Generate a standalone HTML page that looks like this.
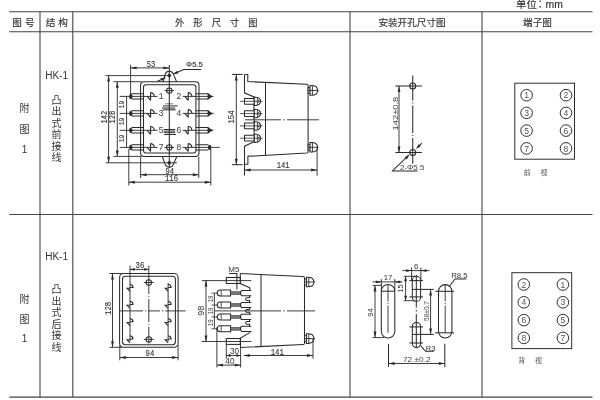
<!DOCTYPE html>
<html lang="zh-CN">
<head>
<meta charset="utf-8">
<title>HK-1 外形尺寸图</title>
<style>
html,body{margin:0;padding:0;background:#fff;}
body{width:600px;height:400px;overflow:hidden;font-family:'Liberation Sans','Noto Sans CJK SC',sans-serif;}
svg{display:block;will-change:transform;}
svg text{white-space:pre;}
</style>
</head>
<body>
<svg width="600" height="400" viewBox="0 0 600 400">
<line x1="9.2" y1="11.7" x2="592.5" y2="11.7" stroke="#444" stroke-width="1.1"/>
<line x1="9.2" y1="31.7" x2="592.5" y2="31.7" stroke="#444" stroke-width="1.1"/>
<line x1="9.2" y1="214.5" x2="592.5" y2="214.5" stroke="#444" stroke-width="1.1"/>
<line x1="9.2" y1="397.2" x2="592.5" y2="397.2" stroke="#444" stroke-width="1.3"/>
<line x1="40" y1="11.7" x2="40" y2="397.2" stroke="#444" stroke-width="1.1"/>
<line x1="72.8" y1="11.7" x2="72.8" y2="397.2" stroke="#444" stroke-width="1.1"/>
<line x1="350" y1="11.7" x2="350" y2="397.2" stroke="#444" stroke-width="1.1"/>
<line x1="482" y1="11.7" x2="482" y2="397.2" stroke="#444" stroke-width="1.1"/>
<text x="24.9" y="26" font-size="9.6" text-anchor="middle" font-family="'Liberation Sans','Noto Sans CJK SC',sans-serif" fill="#333" letter-spacing="3" stroke="#333" stroke-width="0.15">图号</text>
<text x="58.3" y="26" font-size="9.6" text-anchor="middle" font-family="'Liberation Sans','Noto Sans CJK SC',sans-serif" fill="#333" letter-spacing="3" stroke="#333" stroke-width="0.15">结构</text>
<text x="220.8" y="26" font-size="9.2" text-anchor="middle" font-family="'Liberation Sans','Noto Sans CJK SC',sans-serif" fill="#333" letter-spacing="9.1" stroke="#333" stroke-width="0.15">外形尺寸图</text>
<text x="412" y="26" font-size="9.6" text-anchor="middle" font-family="'Liberation Sans','Noto Sans CJK SC',sans-serif" fill="#333" stroke="#333" stroke-width="0.15">安装开孔尺寸图</text>
<text x="537.5" y="26" font-size="9.6" text-anchor="middle" font-family="'Liberation Sans','Noto Sans CJK SC',sans-serif" fill="#333" stroke="#333" stroke-width="0.15">端子图</text>
<text x="516" y="8" font-size="10.4" text-anchor="start" font-family="'Liberation Sans','Noto Sans CJK SC',sans-serif" fill="#333" stroke="#333" stroke-width="0.15">单位<tspan x="540.1" text-anchor="middle" lang="ja" font-family="'Noto Sans CJK JP',sans-serif">：</tspan><tspan x="545.6" text-anchor="start">mm</tspan></text>
<text x="24.6" y="111.5" font-size="10" text-anchor="middle" font-family="'Liberation Sans','Noto Sans CJK SC',sans-serif" fill="#333">附</text>
<text x="24.6" y="133" font-size="10" text-anchor="middle" font-family="'Liberation Sans','Noto Sans CJK SC',sans-serif" fill="#333">图</text>
<text x="24.6" y="153" font-size="10" text-anchor="middle" font-family="'Liberation Sans','Noto Sans CJK SC',sans-serif" fill="#333">1</text>
<text x="24.6" y="303" font-size="10" text-anchor="middle" font-family="'Liberation Sans','Noto Sans CJK SC',sans-serif" fill="#333">附</text>
<text x="24.6" y="323" font-size="10" text-anchor="middle" font-family="'Liberation Sans','Noto Sans CJK SC',sans-serif" fill="#333">图</text>
<text x="24.6" y="342.3" font-size="10" text-anchor="middle" font-family="'Liberation Sans','Noto Sans CJK SC',sans-serif" fill="#333">1</text>
<text x="56.6" y="78.6" font-size="10" text-anchor="middle" font-family="'Liberation Sans','Noto Sans CJK SC',sans-serif" fill="#333">HK-1</text>
<text x="56.6" y="259.6" font-size="10" text-anchor="middle" font-family="'Liberation Sans','Noto Sans CJK SC',sans-serif" fill="#333">HK-1</text>
<text x="56.4" y="103.6" font-size="10" text-anchor="middle" font-family="'Liberation Sans','Noto Sans CJK SC',sans-serif" fill="#333">凸</text>
<text x="56.4" y="115.15" font-size="10" text-anchor="middle" font-family="'Liberation Sans','Noto Sans CJK SC',sans-serif" fill="#333">出</text>
<text x="56.4" y="126.7" font-size="10" text-anchor="middle" font-family="'Liberation Sans','Noto Sans CJK SC',sans-serif" fill="#333">式</text>
<text x="56.4" y="138.25" font-size="10" text-anchor="middle" font-family="'Liberation Sans','Noto Sans CJK SC',sans-serif" fill="#333">前</text>
<text x="56.4" y="149.8" font-size="10" text-anchor="middle" font-family="'Liberation Sans','Noto Sans CJK SC',sans-serif" fill="#333">接</text>
<text x="56.4" y="161.35" font-size="10" text-anchor="middle" font-family="'Liberation Sans','Noto Sans CJK SC',sans-serif" fill="#333">线</text>
<text x="56.4" y="293" font-size="10" text-anchor="middle" font-family="'Liberation Sans','Noto Sans CJK SC',sans-serif" fill="#333">凸</text>
<text x="56.4" y="304.6" font-size="10" text-anchor="middle" font-family="'Liberation Sans','Noto Sans CJK SC',sans-serif" fill="#333">出</text>
<text x="56.4" y="316.2" font-size="10" text-anchor="middle" font-family="'Liberation Sans','Noto Sans CJK SC',sans-serif" fill="#333">式</text>
<text x="56.4" y="327.8" font-size="10" text-anchor="middle" font-family="'Liberation Sans','Noto Sans CJK SC',sans-serif" fill="#333">后</text>
<text x="56.4" y="339.4" font-size="10" text-anchor="middle" font-family="'Liberation Sans','Noto Sans CJK SC',sans-serif" fill="#333">接</text>
<text x="56.4" y="351" font-size="10" text-anchor="middle" font-family="'Liberation Sans','Noto Sans CJK SC',sans-serif" fill="#333">线</text>
<rect x="140.6" y="81.8" width="58.4" height="74.6" rx="3.5" stroke="#2a2a2a" stroke-width="1.04" fill="none"/>
<rect x="143.5" y="84.7" width="52.4" height="68.3" rx="2.5" stroke="#2a2a2a" stroke-width="1.04" fill="none"/>
<line x1="169.3" y1="65" x2="169.3" y2="168" stroke="#2a2a2a" stroke-width="1.04"/>
<path d="M163.2,81.8 L165.1,74.4 A4.4,4.4 0 0 1 173.5,74.4 L176.6,81.8" stroke="#2a2a2a" stroke-width="1.04" fill="none"/>
<circle cx="169.3" cy="75.5" r="1.5" stroke="#2a2a2a" stroke-width="0.65" fill="#2a2a2a"/>
<path d="M162.3,156.5 L165.2,164.4 A4.4,4.4 0 0 0 173.4,164.4 L176.8,156.5" stroke="#2a2a2a" stroke-width="1.04" fill="none"/>
<circle cx="169.3" cy="162.8" r="1.5" stroke="#2a2a2a" stroke-width="0.65" fill="#2a2a2a"/>
<circle cx="169.3" cy="90.6" r="2.7" stroke="#2a2a2a" stroke-width="1.04" fill="none"/>
<line x1="164.5" y1="90.6" x2="174.1" y2="90.6" stroke="#2a2a2a" stroke-width="0.91"/>
<circle cx="169.3" cy="147.5" r="2.7" stroke="#2a2a2a" stroke-width="1.04" fill="none"/>
<line x1="164.5" y1="147.5" x2="174.1" y2="147.5" stroke="#2a2a2a" stroke-width="0.91"/>
<path d="M143.4,93.7 L131.4,93.7 M143.4,99.1 L131.4,99.1" stroke="#2a2a2a" stroke-width="1.01" fill="none"/>
<ellipse cx="130.8" cy="96.4" rx="1.7" ry="2.6" fill="#2a2a2a"/>
<path d="M196,93.7 L208.4,93.7 M196,99.1 L208.4,99.1" stroke="#2a2a2a" stroke-width="1.01" fill="none"/>
<path d="M207.8,93.3 L212.4,96.4 L207.8,99.5 Z" stroke="#2a2a2a" stroke-width="0.39" fill="#2a2a2a"/>
<line x1="182.6" y1="96.4" x2="213.6" y2="96.4" stroke="#2a2a2a" stroke-width="0.91"/>
<line x1="119.7" y1="96.4" x2="157.6" y2="96.4" stroke="#2a2a2a" stroke-width="0.91"/>
<path d="M150.6,92.4 L150.6,100.4 M150.6,92.4 Q154.2,93.4 154.3,96.4 M150.6,100.4 L147.2,96.4" stroke="#2a2a2a" stroke-width="1.1" fill="none"/>
<path d="M188.2,92.4 L188.2,100.4 M188.2,92.4 Q191.8,93.4 191.9,96.4 M188.2,100.4 L184.8,96.4" stroke="#2a2a2a" stroke-width="1.1" fill="none"/>
<text x="161.2" y="99.3" font-size="8.6" text-anchor="middle" font-family="'Liberation Mono','Liberation Sans',monospace" fill="#444" stroke="#444" stroke-width="0.01">1</text>
<text x="178.8" y="99.3" font-size="8.6" text-anchor="middle" font-family="'Liberation Mono','Liberation Sans',monospace" fill="#444" stroke="#444" stroke-width="0.01">2</text>
<path d="M143.4,110.7 L131.4,110.7 M143.4,116.1 L131.4,116.1" stroke="#2a2a2a" stroke-width="1.01" fill="none"/>
<ellipse cx="130.8" cy="113.4" rx="1.7" ry="2.6" fill="#2a2a2a"/>
<path d="M196,110.7 L208.4,110.7 M196,116.1 L208.4,116.1" stroke="#2a2a2a" stroke-width="1.01" fill="none"/>
<path d="M207.8,110.3 L212.4,113.4 L207.8,116.5 Z" stroke="#2a2a2a" stroke-width="0.39" fill="#2a2a2a"/>
<line x1="182.6" y1="113.4" x2="213.6" y2="113.4" stroke="#2a2a2a" stroke-width="0.91"/>
<line x1="119.7" y1="113.4" x2="157.6" y2="113.4" stroke="#2a2a2a" stroke-width="0.91"/>
<path d="M150.6,109.4 L150.6,117.4 M150.6,109.4 Q154.2,110.4 154.3,113.4 M150.6,117.4 L147.2,113.4" stroke="#2a2a2a" stroke-width="1.1" fill="none"/>
<path d="M188.2,109.4 L188.2,117.4 M188.2,109.4 Q191.8,110.4 191.9,113.4 M188.2,117.4 L184.8,113.4" stroke="#2a2a2a" stroke-width="1.1" fill="none"/>
<text x="161.2" y="116.3" font-size="8.6" text-anchor="middle" font-family="'Liberation Mono','Liberation Sans',monospace" fill="#444" stroke="#444" stroke-width="0.01">3</text>
<text x="178.8" y="116.3" font-size="8.6" text-anchor="middle" font-family="'Liberation Mono','Liberation Sans',monospace" fill="#444" stroke="#444" stroke-width="0.01">4</text>
<path d="M143.4,127.6 L131.4,127.6 M143.4,133 L131.4,133" stroke="#2a2a2a" stroke-width="1.01" fill="none"/>
<ellipse cx="130.8" cy="130.3" rx="1.7" ry="2.6" fill="#2a2a2a"/>
<path d="M196,127.6 L208.4,127.6 M196,133 L208.4,133" stroke="#2a2a2a" stroke-width="1.01" fill="none"/>
<path d="M207.8,127.2 L212.4,130.3 L207.8,133.4 Z" stroke="#2a2a2a" stroke-width="0.39" fill="#2a2a2a"/>
<line x1="182.6" y1="130.3" x2="213.6" y2="130.3" stroke="#2a2a2a" stroke-width="0.91"/>
<line x1="119.7" y1="130.3" x2="157.6" y2="130.3" stroke="#2a2a2a" stroke-width="0.91"/>
<path d="M150.6,126.3 L150.6,134.3 M150.6,126.3 Q154.2,127.3 154.3,130.3 M150.6,134.3 L147.2,130.3" stroke="#2a2a2a" stroke-width="1.1" fill="none"/>
<path d="M188.2,126.3 L188.2,134.3 M188.2,126.3 Q191.8,127.3 191.9,130.3 M188.2,134.3 L184.8,130.3" stroke="#2a2a2a" stroke-width="1.1" fill="none"/>
<text x="161.2" y="133.2" font-size="8.6" text-anchor="middle" font-family="'Liberation Mono','Liberation Sans',monospace" fill="#444" stroke="#444" stroke-width="0.01">5</text>
<text x="178.8" y="133.2" font-size="8.6" text-anchor="middle" font-family="'Liberation Mono','Liberation Sans',monospace" fill="#444" stroke="#444" stroke-width="0.01">6</text>
<path d="M143.4,144.7 L131.4,144.7 M143.4,150.1 L131.4,150.1" stroke="#2a2a2a" stroke-width="1.01" fill="none"/>
<ellipse cx="130.8" cy="147.4" rx="1.7" ry="2.6" fill="#2a2a2a"/>
<path d="M196,144.7 L208.4,144.7 M196,150.1 L208.4,150.1" stroke="#2a2a2a" stroke-width="1.01" fill="none"/>
<ellipse cx="209.6" cy="147.4" rx="1.7" ry="2.6" fill="#2a2a2a"/>
<line x1="182.6" y1="147.4" x2="219.8" y2="147.4" stroke="#2a2a2a" stroke-width="0.91"/>
<line x1="119.7" y1="147.4" x2="157.6" y2="147.4" stroke="#2a2a2a" stroke-width="0.91"/>
<path d="M150.6,143.4 L150.6,151.4 M150.6,143.4 Q154.2,144.4 154.3,147.4 M150.6,151.4 L147.2,147.4" stroke="#2a2a2a" stroke-width="1.1" fill="none"/>
<path d="M188.2,143.4 L188.2,151.4 M188.2,143.4 Q191.8,144.4 191.9,147.4 M188.2,151.4 L184.8,147.4" stroke="#2a2a2a" stroke-width="1.1" fill="none"/>
<text x="161.2" y="150.3" font-size="8.6" text-anchor="middle" font-family="'Liberation Mono','Liberation Sans',monospace" fill="#444" stroke="#444" stroke-width="0.01">7</text>
<text x="178.8" y="150.3" font-size="8.6" text-anchor="middle" font-family="'Liberation Mono','Liberation Sans',monospace" fill="#444" stroke="#444" stroke-width="0.01">8</text>
<line x1="165.2" y1="103.8" x2="173.1" y2="103.8" stroke="#2a2a2a" stroke-width="0.65"/>
<line x1="163.1" y1="105.9" x2="177.8" y2="105.9" stroke="#2a2a2a" stroke-width="0.98"/>
<line x1="162" y1="108" x2="175.2" y2="108" stroke="#2a2a2a" stroke-width="1.04"/>
<line x1="163.1" y1="109.8" x2="175.7" y2="109.8" stroke="#2a2a2a" stroke-width="1.04"/>
<line x1="163.7" y1="129.5" x2="175.2" y2="129.5" stroke="#2a2a2a" stroke-width="0.98"/>
<line x1="163.7" y1="131.1" x2="175.2" y2="131.1" stroke="#2a2a2a" stroke-width="0.98"/>
<line x1="163.7" y1="132.7" x2="175.2" y2="132.7" stroke="#2a2a2a" stroke-width="0.98"/>
<line x1="164.2" y1="134.5" x2="176" y2="134.5" stroke="#2a2a2a" stroke-width="0.98"/>
<line x1="130.6" y1="65" x2="130.6" y2="99" stroke="#2a2a2a" stroke-width="0.91"/>
<line x1="130.6" y1="67.9" x2="169.3" y2="67.9" stroke="#2a2a2a" stroke-width="0.91"/>
<polygon points="169.3,67.9 163.3,69.35 163.3,66.45" fill="#2a2a2a"/>
<polygon points="130.6,67.9 136.6,66.45 136.6,69.35" fill="#2a2a2a"/>
<text x="151" y="66.8" font-size="8.2" text-anchor="middle" font-family="'Liberation Mono','Liberation Sans',monospace" fill="#333" textLength="8.6" lengthAdjust="spacingAndGlyphs" stroke="#333" stroke-width="0.12">53</text>
<text x="194.4" y="67.4" font-size="7.8" text-anchor="middle" font-family="'Liberation Sans','Noto Sans CJK SC',sans-serif" fill="#333" textLength="16.6" lengthAdjust="spacingAndGlyphs" stroke="#333" stroke-width="0.15">Φ5.5</text>
<path d="M201.3,69.4 L183.8,69.4 L173.4,74" stroke="#2a2a2a" stroke-width="1.04" fill="none"/>
<polygon points="173.2,74.1 177.18,70.74 178.36,73.39" fill="#2a2a2a"/>
<line x1="157" y1="81.5" x2="165.4" y2="77.6" stroke="#2a2a2a" stroke-width="1.04"/>
<polygon points="165.6,77.5 161.68,80.93 160.46,78.3" fill="#2a2a2a"/>
<line x1="105.6" y1="75.6" x2="169.3" y2="75.6" stroke="#2a2a2a" stroke-width="0.91"/>
<line x1="113.5" y1="81.7" x2="141.5" y2="81.7" stroke="#2a2a2a" stroke-width="0.91"/>
<line x1="105.6" y1="162.8" x2="177" y2="162.8" stroke="#2a2a2a" stroke-width="0.91"/>
<line x1="113.5" y1="156.4" x2="141.5" y2="156.4" stroke="#2a2a2a" stroke-width="0.91"/>
<line x1="108.6" y1="75.6" x2="108.6" y2="162.8" stroke="#2a2a2a" stroke-width="0.91"/>
<polygon points="108.6,162.8 107.15,156.8 110.05,156.8" fill="#2a2a2a"/>
<polygon points="108.6,75.6 110.05,81.6 107.15,81.6" fill="#2a2a2a"/>
<line x1="117.3" y1="81.7" x2="117.3" y2="156.4" stroke="#2a2a2a" stroke-width="0.91"/>
<polygon points="117.3,156.4 115.85,150.4 118.75,150.4" fill="#2a2a2a"/>
<polygon points="117.3,81.7 118.75,87.7 115.85,87.7" fill="#2a2a2a"/>
<text x="106.9" y="117.1" font-size="8.2" text-anchor="middle" font-family="'Liberation Mono','Liberation Sans',monospace" fill="#333" transform="rotate(-90 106.9 117.1)" textLength="13" lengthAdjust="spacingAndGlyphs" stroke="#333" stroke-width="0.12">142</text>
<text x="115.2" y="117.1" font-size="8.2" text-anchor="middle" font-family="'Liberation Mono','Liberation Sans',monospace" fill="#333" transform="rotate(-90 115.2 117.1)" textLength="13" lengthAdjust="spacingAndGlyphs" stroke="#333" stroke-width="0.12">128</text>
<line x1="126.6" y1="96.4" x2="126.6" y2="147.4" stroke="#2a2a2a" stroke-width="0.91"/>
<text x="123.9" y="104.5" font-size="8" text-anchor="middle" font-family="'Liberation Mono','Liberation Sans',monospace" fill="#333" transform="rotate(-90 123.9 104.5)" textLength="7.8" lengthAdjust="spacingAndGlyphs" stroke="#333" stroke-width="0.12">19</text>
<text x="123.9" y="121.45" font-size="8" text-anchor="middle" font-family="'Liberation Mono','Liberation Sans',monospace" fill="#333" transform="rotate(-90 123.9 121.45)" textLength="7.8" lengthAdjust="spacingAndGlyphs" stroke="#333" stroke-width="0.12">19</text>
<text x="123.9" y="138.45" font-size="8" text-anchor="middle" font-family="'Liberation Mono','Liberation Sans',monospace" fill="#333" transform="rotate(-90 123.9 138.45)" textLength="7.8" lengthAdjust="spacingAndGlyphs" stroke="#333" stroke-width="0.12">19</text>
<line x1="128.8" y1="149" x2="128.8" y2="185.5" stroke="#2a2a2a" stroke-width="0.91"/>
<line x1="210.8" y1="149" x2="210.8" y2="185.5" stroke="#2a2a2a" stroke-width="0.91"/>
<line x1="140.6" y1="157" x2="140.6" y2="178" stroke="#2a2a2a" stroke-width="0.91"/>
<line x1="198.8" y1="157" x2="198.8" y2="178" stroke="#2a2a2a" stroke-width="0.91"/>
<line x1="140.6" y1="174.7" x2="198.8" y2="174.7" stroke="#2a2a2a" stroke-width="0.91"/>
<polygon points="198.8,174.7 192.8,176.15 192.8,173.25" fill="#2a2a2a"/>
<polygon points="140.6,174.7 146.6,173.25 146.6,176.15" fill="#2a2a2a"/>
<line x1="128.8" y1="182.2" x2="210.8" y2="182.2" stroke="#2a2a2a" stroke-width="0.91"/>
<polygon points="210.8,182.2 204.8,183.65 204.8,180.75" fill="#2a2a2a"/>
<polygon points="128.8,182.2 134.8,180.75 134.8,183.65" fill="#2a2a2a"/>
<text x="169.8" y="173.7" font-size="8.2" text-anchor="middle" font-family="'Liberation Mono','Liberation Sans',monospace" fill="#333" textLength="8.6" lengthAdjust="spacingAndGlyphs" stroke="#333" stroke-width="0.12">94</text>
<text x="171.5" y="181.3" font-size="8.2" text-anchor="middle" font-family="'Liberation Mono','Liberation Sans',monospace" fill="#333" textLength="13.2" lengthAdjust="spacingAndGlyphs" stroke="#333" stroke-width="0.12">116</text>
<path d="M244.5,74.4 L247.8,74.4 L247.8,81.6 L306.6,84.3 Q308.1,84.4 308.1,85.8 L308.1,151.8 Q308.1,153 306.8,153.1 L247.9,156.3 L247.9,164.2 L244.5,164.2" stroke="#2a2a2a" stroke-width="1.04" fill="none"/>
<path d="M244.5,74.4 L244.5,92.8 L253.8,96.9 L254.2,141.6 L244.5,146.2 L244.5,175.6" stroke="#2a2a2a" stroke-width="1.04" fill="none"/>
<line x1="265.5" y1="82.5" x2="265.5" y2="155.2" stroke="#2a2a2a" stroke-width="1.04"/>
<rect x="244.5" y="98.4" width="9.8" height="5.8" rx="0.3" stroke="#2a2a2a" stroke-width="1.04" fill="#fff"/>
<path d="M254.3,97 Q260.6,97.3 260.6,101.3 Q260.6,105.3 254.3,105.6 Z" stroke="#2a2a2a" stroke-width="1.04" fill="#fff"/>
<line x1="257.4" y1="97.5" x2="257.4" y2="105.1" stroke="#2a2a2a" stroke-width="0.78"/>
<line x1="240" y1="101.3" x2="262.6" y2="101.3" stroke="#2a2a2a" stroke-width="0.78"/>
<path d="M257.4,99.3 L260.4,101.3 L257.4,103.3 Z" stroke="#555" stroke-width="0.39" fill="#666"/>
<rect x="244.5" y="110.7" width="9.8" height="5.8" rx="0.3" stroke="#2a2a2a" stroke-width="1.04" fill="#fff"/>
<path d="M254.3,109.3 Q260.6,109.6 260.6,113.6 Q260.6,117.6 254.3,117.9 Z" stroke="#2a2a2a" stroke-width="1.04" fill="#fff"/>
<line x1="257.4" y1="109.8" x2="257.4" y2="117.4" stroke="#2a2a2a" stroke-width="0.78"/>
<line x1="240" y1="113.6" x2="262.6" y2="113.6" stroke="#2a2a2a" stroke-width="0.78"/>
<path d="M257.4,111.6 L260.4,113.6 L257.4,115.6 Z" stroke="#555" stroke-width="0.39" fill="#666"/>
<rect x="244.5" y="123" width="9.8" height="5.8" rx="0.3" stroke="#2a2a2a" stroke-width="1.04" fill="#fff"/>
<path d="M254.3,121.6 Q260.6,121.9 260.6,125.9 Q260.6,129.9 254.3,130.2 Z" stroke="#2a2a2a" stroke-width="1.04" fill="#fff"/>
<line x1="257.4" y1="122.1" x2="257.4" y2="129.7" stroke="#2a2a2a" stroke-width="0.78"/>
<line x1="240" y1="125.9" x2="262.6" y2="125.9" stroke="#2a2a2a" stroke-width="0.78"/>
<path d="M257.4,123.9 L260.4,125.9 L257.4,127.9 Z" stroke="#555" stroke-width="0.39" fill="#666"/>
<rect x="244.5" y="135.3" width="9.8" height="5.8" rx="0.3" stroke="#2a2a2a" stroke-width="1.04" fill="#fff"/>
<path d="M254.3,133.9 Q260.6,134.2 260.6,138.2 Q260.6,142.2 254.3,142.5 Z" stroke="#2a2a2a" stroke-width="1.04" fill="#fff"/>
<line x1="257.4" y1="134.4" x2="257.4" y2="142" stroke="#2a2a2a" stroke-width="0.78"/>
<line x1="240" y1="138.2" x2="262.6" y2="138.2" stroke="#2a2a2a" stroke-width="0.78"/>
<path d="M257.4,136.2 L260.4,138.2 L257.4,140.2 Z" stroke="#555" stroke-width="0.39" fill="#666"/>
<line x1="245" y1="119.8" x2="281" y2="119.8" stroke="#2a2a2a" stroke-width="0.91"/>
<line x1="283.4" y1="119.8" x2="284.8" y2="119.8" stroke="#2a2a2a" stroke-width="0.91"/>
<line x1="287" y1="119.8" x2="319" y2="119.8" stroke="#2a2a2a" stroke-width="0.91"/>
<rect x="308.1" y="87.4" width="2" height="6" rx="0" stroke="#2a2a2a" stroke-width="0.91" fill="#fff"/>
<path d="M310,85.6 L311.5,85.6 C315.5,85.6 317.5,88 317.6,90.4 C317.5,92.8 315.5,95.2 311.5,95.2 L310,95.2 Z" stroke="#2a2a2a" stroke-width="1.04" fill="#fff"/>
<line x1="312.4" y1="85.7" x2="312.4" y2="95.1" stroke="#2a2a2a" stroke-width="0.91"/>
<line x1="308.1" y1="90.4" x2="318.5" y2="90.4" stroke="#2a2a2a" stroke-width="0.91"/>
<rect x="308.1" y="144.3" width="2" height="6" rx="0" stroke="#2a2a2a" stroke-width="0.91" fill="#fff"/>
<path d="M310,142.5 L311.5,142.5 C315.5,142.5 317.5,144.9 317.6,147.3 C317.5,149.7 315.5,152.1 311.5,152.1 L310,152.1 Z" stroke="#2a2a2a" stroke-width="1.04" fill="#fff"/>
<line x1="312.4" y1="142.6" x2="312.4" y2="152" stroke="#2a2a2a" stroke-width="0.91"/>
<line x1="308.1" y1="147.3" x2="318.5" y2="147.3" stroke="#2a2a2a" stroke-width="0.91"/>
<line x1="231.9" y1="74.4" x2="242.6" y2="74.4" stroke="#2a2a2a" stroke-width="1.04"/>
<line x1="231.9" y1="164.7" x2="242.6" y2="164.7" stroke="#2a2a2a" stroke-width="1.04"/>
<line x1="236.3" y1="74.4" x2="236.3" y2="164.7" stroke="#2a2a2a" stroke-width="0.91"/>
<polygon points="236.3,164.7 234.85,158.7 237.75,158.7" fill="#2a2a2a"/>
<polygon points="236.3,74.4 237.75,80.4 234.85,80.4" fill="#2a2a2a"/>
<text x="234.3" y="117" font-size="8.2" text-anchor="middle" font-family="'Liberation Mono','Liberation Sans',monospace" fill="#333" transform="rotate(-90 234.3 117)" textLength="13.2" lengthAdjust="spacingAndGlyphs" stroke="#333" stroke-width="0.12">154</text>
<line x1="317.1" y1="147.5" x2="317.1" y2="175.6" stroke="#2a2a2a" stroke-width="0.91"/>
<line x1="244.6" y1="170" x2="317.1" y2="170" stroke="#2a2a2a" stroke-width="0.91"/>
<polygon points="317.1,170 311.1,171.45 311.1,168.55" fill="#2a2a2a"/>
<polygon points="244.6,170 250.6,168.55 250.6,171.45" fill="#2a2a2a"/>
<text x="283.2" y="168.1" font-size="8.2" text-anchor="middle" font-family="'Liberation Mono','Liberation Sans',monospace" fill="#333" textLength="12.8" lengthAdjust="spacingAndGlyphs" stroke="#333" stroke-width="0.12">141</text>
<circle cx="412.75" cy="86" r="3" stroke="#2a2a2a" stroke-width="1.04" fill="none"/>
<circle cx="412.75" cy="152.5" r="3" stroke="#2a2a2a" stroke-width="1.04" fill="none"/>
<line x1="395.3" y1="86" x2="421.9" y2="86" stroke="#2a2a2a" stroke-width="1.04"/>
<line x1="395.3" y1="152.5" x2="421.9" y2="152.5" stroke="#2a2a2a" stroke-width="1.04"/>
<line x1="412.75" y1="75.6" x2="412.75" y2="100.5" stroke="#2a2a2a" stroke-width="1.04"/>
<line x1="412.75" y1="102.5" x2="412.75" y2="103.5" stroke="#2a2a2a" stroke-width="1.04"/>
<line x1="412.75" y1="105.5" x2="412.75" y2="133" stroke="#2a2a2a" stroke-width="1.04"/>
<line x1="412.75" y1="135" x2="412.75" y2="136" stroke="#2a2a2a" stroke-width="1.04"/>
<line x1="412.75" y1="138" x2="412.75" y2="163.8" stroke="#2a2a2a" stroke-width="1.04"/>
<line x1="399" y1="86" x2="399" y2="152.5" stroke="#2a2a2a" stroke-width="0.91"/>
<polygon points="399,152.5 397.55,146.5 400.45,146.5" fill="#2a2a2a"/>
<polygon points="399,86 400.45,92 397.55,92" fill="#2a2a2a"/>
<text x="397.8" y="113.6" font-size="7.6" text-anchor="middle" font-family="'Liberation Sans','Noto Sans CJK SC',sans-serif" fill="#444" transform="rotate(-90 397.8 113.6)" textLength="33.6" lengthAdjust="spacingAndGlyphs">142±0.8</text>
<path d="M417.5,171 L392.5,171 L408.8,155.2" stroke="#2a2a2a" stroke-width="1.04" fill="none"/>
<polygon points="409.6,154.5 406.69,159.39 404.66,157.32" fill="#2a2a2a"/>
<line x1="421.9" y1="143.1" x2="417" y2="147.9" stroke="#2a2a2a" stroke-width="1.04"/>
<polygon points="415.9,149 418.81,144.11 420.84,146.18" fill="#2a2a2a"/>
<text x="412.2" y="170.4" font-size="7.8" text-anchor="middle" font-family="'Liberation Sans','Noto Sans CJK SC',sans-serif" fill="#444" textLength="24.6" lengthAdjust="spacingAndGlyphs">2-Φ5.5</text>
<rect x="514.8" y="83.2" width="59.7" height="76" rx="0" stroke="#2a2a2a" stroke-width="0.98" fill="none"/>
<circle cx="526.6" cy="95.2" r="5.8" stroke="#2a2a2a" stroke-width="0.98" fill="none"/>
<text x="526.6" y="98.3" font-size="8.6" text-anchor="middle" font-family="'Liberation Sans','Noto Sans CJK SC',sans-serif" fill="#555">1</text>
<circle cx="566" cy="95.2" r="5.8" stroke="#2a2a2a" stroke-width="0.98" fill="none"/>
<text x="566" y="98.3" font-size="8.6" text-anchor="middle" font-family="'Liberation Sans','Noto Sans CJK SC',sans-serif" fill="#555">2</text>
<circle cx="526.6" cy="112.9" r="5.8" stroke="#2a2a2a" stroke-width="0.98" fill="none"/>
<text x="526.6" y="116" font-size="8.6" text-anchor="middle" font-family="'Liberation Sans','Noto Sans CJK SC',sans-serif" fill="#555">3</text>
<circle cx="566" cy="112.9" r="5.8" stroke="#2a2a2a" stroke-width="0.98" fill="none"/>
<text x="566" y="116" font-size="8.6" text-anchor="middle" font-family="'Liberation Sans','Noto Sans CJK SC',sans-serif" fill="#555">4</text>
<circle cx="526.6" cy="130.6" r="5.8" stroke="#2a2a2a" stroke-width="0.98" fill="none"/>
<text x="526.6" y="133.7" font-size="8.6" text-anchor="middle" font-family="'Liberation Sans','Noto Sans CJK SC',sans-serif" fill="#555">5</text>
<circle cx="566" cy="130.6" r="5.8" stroke="#2a2a2a" stroke-width="0.98" fill="none"/>
<text x="566" y="133.7" font-size="8.6" text-anchor="middle" font-family="'Liberation Sans','Noto Sans CJK SC',sans-serif" fill="#555">6</text>
<circle cx="526.6" cy="148.4" r="5.8" stroke="#2a2a2a" stroke-width="0.98" fill="none"/>
<text x="526.6" y="151.5" font-size="8.6" text-anchor="middle" font-family="'Liberation Sans','Noto Sans CJK SC',sans-serif" fill="#555">7</text>
<circle cx="566" cy="148.4" r="5.8" stroke="#2a2a2a" stroke-width="0.98" fill="none"/>
<text x="566" y="151.5" font-size="8.6" text-anchor="middle" font-family="'Liberation Sans','Noto Sans CJK SC',sans-serif" fill="#555">8</text>
<text x="527.2" y="175.4" font-size="7" text-anchor="middle" font-family="'Liberation Sans','Noto Sans CJK SC',sans-serif" fill="#555">前</text>
<text x="544.1" y="175.4" font-size="7" text-anchor="middle" font-family="'Liberation Sans','Noto Sans CJK SC',sans-serif" fill="#555">视</text>
<rect x="119.6" y="273.5" width="58.5" height="73.8" rx="4" stroke="#2a2a2a" stroke-width="1.04" fill="none"/>
<rect x="122.5" y="276.3" width="52.9" height="68.4" rx="3" stroke="#2a2a2a" stroke-width="1.04" fill="none"/>
<line x1="130" y1="265.6" x2="130" y2="341.5" stroke="#2a2a2a" stroke-width="0.91"/>
<line x1="148.8" y1="265.6" x2="148.8" y2="285.5" stroke="#2a2a2a" stroke-width="0.91"/>
<line x1="148.8" y1="285.5" x2="148.8" y2="294" stroke="#2a2a2a" stroke-width="0.91"/>
<line x1="148.8" y1="296" x2="148.8" y2="297" stroke="#2a2a2a" stroke-width="0.91"/>
<line x1="148.8" y1="299" x2="148.8" y2="322" stroke="#2a2a2a" stroke-width="0.91"/>
<line x1="148.8" y1="324" x2="148.8" y2="325" stroke="#2a2a2a" stroke-width="0.91"/>
<line x1="148.8" y1="327" x2="148.8" y2="343.5" stroke="#2a2a2a" stroke-width="0.91"/>
<line x1="168.1" y1="283" x2="168.1" y2="341.5" stroke="#2a2a2a" stroke-width="0.91"/>
<circle cx="148.8" cy="282.5" r="2.7" stroke="#2a2a2a" stroke-width="1.04" fill="none"/>
<line x1="143.8" y1="282.5" x2="153.8" y2="282.5" stroke="#2a2a2a" stroke-width="0.91"/>
<circle cx="148.8" cy="339.4" r="2.7" stroke="#2a2a2a" stroke-width="1.04" fill="none"/>
<line x1="143.8" y1="339.4" x2="153.8" y2="339.4" stroke="#2a2a2a" stroke-width="0.91"/>
<path d="M130,284.2 Q133.1,284.8 133,287.4 L130,287.4 M130,291.4 L127,288.2 L130,288.2" stroke="#2a2a2a" stroke-width="1.04" fill="none"/>
<path d="M168.1,284.2 Q171.2,284.8 171.1,287.4 L168.1,287.4 M168.1,291.4 L165.1,288.2 L168.1,288.2" stroke="#2a2a2a" stroke-width="1.04" fill="none"/>
<path d="M130,301.3 Q133.1,301.9 133,304.5 L130,304.5 M130,308.5 L127,305.3 L130,305.3" stroke="#2a2a2a" stroke-width="1.04" fill="none"/>
<path d="M168.1,301.3 Q171.2,301.9 171.1,304.5 L168.1,304.5 M168.1,308.5 L165.1,305.3 L168.1,305.3" stroke="#2a2a2a" stroke-width="1.04" fill="none"/>
<path d="M130,318.5 Q133.1,319.1 133,321.7 L130,321.7 M130,325.7 L127,322.5 L130,322.5" stroke="#2a2a2a" stroke-width="1.04" fill="none"/>
<path d="M168.1,318.5 Q171.2,319.1 171.1,321.7 L168.1,321.7 M168.1,325.7 L165.1,322.5 L168.1,322.5" stroke="#2a2a2a" stroke-width="1.04" fill="none"/>
<path d="M130,335.7 Q133.1,336.3 133,338.9 L130,338.9 M130,342.9 L127,339.7 L130,339.7" stroke="#2a2a2a" stroke-width="1.04" fill="none"/>
<path d="M168.1,335.7 Q171.2,336.3 171.1,338.9 L168.1,338.9 M168.1,342.9 L165.1,339.7 L168.1,339.7" stroke="#2a2a2a" stroke-width="1.04" fill="none"/>
<line x1="119.7" y1="310.9" x2="143" y2="310.9" stroke="#2a2a2a" stroke-width="0.91"/>
<line x1="145" y1="310.9" x2="146.2" y2="310.9" stroke="#2a2a2a" stroke-width="0.91"/>
<line x1="148.2" y1="310.9" x2="160" y2="310.9" stroke="#2a2a2a" stroke-width="0.91"/>
<line x1="162" y1="310.9" x2="163.2" y2="310.9" stroke="#2a2a2a" stroke-width="0.91"/>
<line x1="165.2" y1="310.9" x2="185.7" y2="310.9" stroke="#2a2a2a" stroke-width="0.91"/>
<line x1="130" y1="269.4" x2="148.8" y2="269.4" stroke="#2a2a2a" stroke-width="0.91"/>
<polygon points="148.8,269.4 144.2,270.85 144.2,267.95" fill="#2a2a2a"/>
<polygon points="130,269.4 134.6,267.95 134.6,270.85" fill="#2a2a2a"/>
<text x="140" y="267.6" font-size="8.2" text-anchor="middle" font-family="'Liberation Mono','Liberation Sans',monospace" fill="#333" textLength="8.8" lengthAdjust="spacingAndGlyphs" stroke="#333" stroke-width="0.12">36</text>
<line x1="109.4" y1="273.5" x2="122" y2="273.5" stroke="#2a2a2a" stroke-width="0.91"/>
<line x1="109.4" y1="347.3" x2="122" y2="347.3" stroke="#2a2a2a" stroke-width="0.91"/>
<line x1="112.5" y1="273.5" x2="112.5" y2="347.3" stroke="#2a2a2a" stroke-width="0.91"/>
<polygon points="112.5,347.3 111.05,341.3 113.95,341.3" fill="#2a2a2a"/>
<polygon points="112.5,273.5 113.95,279.5 111.05,279.5" fill="#2a2a2a"/>
<text x="111.1" y="308.4" font-size="8.2" text-anchor="middle" font-family="'Liberation Mono','Liberation Sans',monospace" fill="#333" transform="rotate(-90 111.1 308.4)" textLength="13.2" lengthAdjust="spacingAndGlyphs" stroke="#333" stroke-width="0.12">128</text>
<line x1="119.8" y1="345" x2="119.8" y2="360.3" stroke="#2a2a2a" stroke-width="0.91"/>
<line x1="178.1" y1="345" x2="178.1" y2="360.3" stroke="#2a2a2a" stroke-width="0.91"/>
<line x1="119.8" y1="357.5" x2="178.1" y2="357.5" stroke="#2a2a2a" stroke-width="0.91"/>
<polygon points="178.1,357.5 172.1,358.95 172.1,356.05" fill="#2a2a2a"/>
<polygon points="119.8,357.5 125.8,356.05 125.8,358.95" fill="#2a2a2a"/>
<text x="150" y="355.7" font-size="8.2" text-anchor="middle" font-family="'Liberation Mono','Liberation Sans',monospace" fill="#333" textLength="8.8" lengthAdjust="spacingAndGlyphs" stroke="#333" stroke-width="0.12">94</text>
<path d="M240.3,273.5 L303,276.5 Q304.5,276.6 304.5,278 L304.5,343.2 Q304.5,344.5 303,344.6 L240.5,347.5 L240.5,338 L249.8,332.6" stroke="#2a2a2a" stroke-width="1.04" fill="none"/>
<path d="M240.3,273.5 L240.3,283.6 L249.8,287.8 L249.8,290.6" stroke="#2a2a2a" stroke-width="1.04" fill="none"/>
<line x1="261" y1="274.4" x2="261" y2="346.4" stroke="#2a2a2a" stroke-width="1.04"/>
<rect x="226.3" y="277.5" width="14" height="6" rx="0" stroke="#2a2a2a" stroke-width="1.04" fill="none"/>
<line x1="201.9" y1="280.6" x2="251.3" y2="280.6" stroke="#2a2a2a" stroke-width="0.91"/>
<rect x="226.3" y="338.5" width="14" height="5.9" rx="0" stroke="#2a2a2a" stroke-width="1.04" fill="none"/>
<line x1="201.9" y1="341.5" x2="251.3" y2="341.5" stroke="#2a2a2a" stroke-width="0.91"/>
<text x="233.8" y="272.3" font-size="7.8" text-anchor="middle" font-family="'Liberation Sans','Noto Sans CJK SC',sans-serif" fill="#333" textLength="11.2" lengthAdjust="spacingAndGlyphs">M5</text>
<path d="M229,273.6 L237.2,273.6 M236.9,273.6 L236.9,289.4" stroke="#2a2a2a" stroke-width="1.04" fill="none"/>
<path d="M230.6,290.1 L220.2,290.1 A3,3 0 0 0 220.2,296.1 L230.6,296.1 Z" stroke="#2a2a2a" stroke-width="1.04" fill="none"/>
<line x1="221.2" y1="290.1" x2="221.2" y2="296.1" stroke="#2a2a2a" stroke-width="0.78"/>
<rect x="230.6" y="291.7" width="10" height="2.8" rx="0" stroke="#2a2a2a" stroke-width="0.52" fill="#777"/>
<path d="M251.3,290.5 L242,290.5 Q240.6,290.5 240.6,293.1 Q240.6,295.7 242,295.7 L251.3,295.7" stroke="#2a2a2a" stroke-width="1.04" fill="none"/>
<line x1="211.4" y1="293.1" x2="218" y2="293.1" stroke="#2a2a2a" stroke-width="0.78"/>
<path d="M230.6,302 L220.2,302 A3,3 0 0 0 220.2,308 L230.6,308 Z" stroke="#2a2a2a" stroke-width="1.04" fill="none"/>
<line x1="221.2" y1="302" x2="221.2" y2="308" stroke="#2a2a2a" stroke-width="0.78"/>
<rect x="230.6" y="303.6" width="10" height="2.8" rx="0" stroke="#2a2a2a" stroke-width="0.52" fill="#777"/>
<path d="M251.3,302.4 L242,302.4 Q240.6,302.4 240.6,305 Q240.6,307.6 242,307.6 L251.3,307.6" stroke="#2a2a2a" stroke-width="1.04" fill="none"/>
<line x1="211.4" y1="305" x2="218" y2="305" stroke="#2a2a2a" stroke-width="0.78"/>
<path d="M230.6,313.9 L220.2,313.9 A3,3 0 0 0 220.2,319.9 L230.6,319.9 Z" stroke="#2a2a2a" stroke-width="1.04" fill="none"/>
<line x1="221.2" y1="313.9" x2="221.2" y2="319.9" stroke="#2a2a2a" stroke-width="0.78"/>
<rect x="230.6" y="315.5" width="10" height="2.8" rx="0" stroke="#2a2a2a" stroke-width="0.52" fill="#777"/>
<path d="M251.3,314.3 L242,314.3 Q240.6,314.3 240.6,316.9 Q240.6,319.5 242,319.5 L251.3,319.5" stroke="#2a2a2a" stroke-width="1.04" fill="none"/>
<line x1="211.4" y1="316.9" x2="218" y2="316.9" stroke="#2a2a2a" stroke-width="0.78"/>
<path d="M230.6,325.8 L220.2,325.8 A3,3 0 0 0 220.2,331.8 L230.6,331.8 Z" stroke="#2a2a2a" stroke-width="1.04" fill="none"/>
<line x1="221.2" y1="325.8" x2="221.2" y2="331.8" stroke="#2a2a2a" stroke-width="0.78"/>
<rect x="230.6" y="327.4" width="10" height="2.8" rx="0" stroke="#2a2a2a" stroke-width="0.52" fill="#777"/>
<path d="M251.3,326.2 L242,326.2 Q240.6,326.2 240.6,328.8 Q240.6,331.4 242,331.4 L251.3,331.4" stroke="#2a2a2a" stroke-width="1.04" fill="none"/>
<line x1="211.4" y1="328.8" x2="218" y2="328.8" stroke="#2a2a2a" stroke-width="0.78"/>
<path d="M249.6,295.7 L249.6,297.65 L247,297.65 A1.4,1.4 0 0 0 247,300.45 L249.6,300.45 L249.6,302.4" stroke="#2a2a2a" stroke-width="1.04" fill="none"/>
<path d="M249.6,307.6 L249.6,309.55 L247,309.55 A1.4,1.4 0 0 0 247,312.35 L249.6,312.35 L249.6,314.3" stroke="#2a2a2a" stroke-width="1.04" fill="none"/>
<path d="M249.6,319.5 L249.6,321.45 L247,321.45 A1.4,1.4 0 0 0 247,324.25 L249.6,324.25 L249.6,326.2" stroke="#2a2a2a" stroke-width="1.04" fill="none"/>
<line x1="249.8" y1="331.4" x2="249.8" y2="332.8" stroke="#2a2a2a" stroke-width="1.04"/>
<line x1="215" y1="310.9" x2="281" y2="310.9" stroke="#2a2a2a" stroke-width="0.91"/>
<line x1="283.2" y1="310.9" x2="284.6" y2="310.9" stroke="#2a2a2a" stroke-width="0.91"/>
<line x1="287" y1="310.9" x2="315" y2="310.9" stroke="#2a2a2a" stroke-width="0.91"/>
<rect x="304.5" y="279" width="2" height="6" rx="0" stroke="#2a2a2a" stroke-width="0.91" fill="#fff"/>
<path d="M306.4,277.2 L307.9,277.2 C311.9,277.2 313.9,279.6 314,282 C313.9,284.4 311.9,286.8 307.9,286.8 L306.4,286.8 Z" stroke="#2a2a2a" stroke-width="1.04" fill="#fff"/>
<line x1="308.8" y1="277.3" x2="308.8" y2="286.7" stroke="#2a2a2a" stroke-width="0.91"/>
<line x1="304.5" y1="282" x2="314.9" y2="282" stroke="#2a2a2a" stroke-width="0.91"/>
<rect x="304.5" y="335.6" width="2" height="6" rx="0" stroke="#2a2a2a" stroke-width="0.91" fill="#fff"/>
<path d="M306.4,333.8 L307.9,333.8 C311.9,333.8 313.9,336.2 314,338.6 C313.9,341 311.9,343.4 307.9,343.4 L306.4,343.4 Z" stroke="#2a2a2a" stroke-width="1.04" fill="#fff"/>
<line x1="308.8" y1="333.9" x2="308.8" y2="343.3" stroke="#2a2a2a" stroke-width="0.91"/>
<line x1="304.5" y1="338.6" x2="314.9" y2="338.6" stroke="#2a2a2a" stroke-width="0.91"/>
<line x1="206" y1="280.6" x2="206" y2="341.5" stroke="#2a2a2a" stroke-width="0.91"/>
<polygon points="206,341.5 204.55,335.5 207.45,335.5" fill="#2a2a2a"/>
<polygon points="206,280.6 207.45,286.6 204.55,286.6" fill="#2a2a2a"/>
<text x="203.8" y="310.8" font-size="8.2" text-anchor="middle" font-family="'Liberation Sans','Noto Sans CJK SC',sans-serif" fill="#333" transform="rotate(-90 203.8 310.8)" textLength="10" lengthAdjust="spacingAndGlyphs">98</text>
<line x1="214.4" y1="293.1" x2="214.4" y2="328.8" stroke="#2a2a2a" stroke-width="0.91"/>
<text x="212.7" y="299.05" font-size="6.8" text-anchor="middle" font-family="'Liberation Sans','Noto Sans CJK SC',sans-serif" fill="#333" transform="rotate(-90 212.7 299.05)" textLength="6.6" lengthAdjust="spacingAndGlyphs">19</text>
<text x="212.7" y="310.95" font-size="6.8" text-anchor="middle" font-family="'Liberation Sans','Noto Sans CJK SC',sans-serif" fill="#333" transform="rotate(-90 212.7 310.95)" textLength="6.6" lengthAdjust="spacingAndGlyphs">19</text>
<text x="212.7" y="322.85" font-size="6.8" text-anchor="middle" font-family="'Liberation Sans','Noto Sans CJK SC',sans-serif" fill="#333" transform="rotate(-90 212.7 322.85)" textLength="6.6" lengthAdjust="spacingAndGlyphs">19</text>
<line x1="226.3" y1="344.4" x2="226.3" y2="358.8" stroke="#2a2a2a" stroke-width="0.91"/>
<line x1="216.9" y1="327.5" x2="216.9" y2="367.5" stroke="#2a2a2a" stroke-width="0.91"/>
<line x1="240.6" y1="347.5" x2="240.6" y2="367.5" stroke="#2a2a2a" stroke-width="0.91"/>
<line x1="226.3" y1="355.5" x2="240.6" y2="355.5" stroke="#2a2a2a" stroke-width="0.91"/>
<polygon points="240.6,355.5 236.4,356.95 236.4,354.05" fill="#2a2a2a"/>
<polygon points="226.3,355.5 230.5,354.05 230.5,356.95" fill="#2a2a2a"/>
<line x1="217" y1="365.1" x2="240.7" y2="365.1" stroke="#2a2a2a" stroke-width="0.91"/>
<polygon points="240.7,365.1 234.7,366.55 234.7,363.65" fill="#2a2a2a"/>
<polygon points="217,365.1 223,363.65 223,366.55" fill="#2a2a2a"/>
<text x="234.5" y="353.9" font-size="8.2" text-anchor="middle" font-family="'Liberation Sans','Noto Sans CJK SC',sans-serif" fill="#333">30</text>
<text x="229.9" y="363.9" font-size="8.2" text-anchor="middle" font-family="'Liberation Sans','Noto Sans CJK SC',sans-serif" fill="#333">40</text>
<line x1="313" y1="339" x2="313" y2="358.8" stroke="#2a2a2a" stroke-width="0.91"/>
<line x1="243.7" y1="355.5" x2="313" y2="355.5" stroke="#2a2a2a" stroke-width="0.91"/>
<polygon points="243.7,355.5 249.7,354.05 249.7,356.95" fill="#2a2a2a"/>
<polygon points="313,355.5 307,356.95 307,354.05" fill="#2a2a2a"/>
<text x="277.3" y="354.6" font-size="8.2" text-anchor="middle" font-family="'Liberation Mono','Liberation Sans',monospace" fill="#333" textLength="13.2" lengthAdjust="spacingAndGlyphs" stroke="#333" stroke-width="0.12">141</text>
<path d="M381.3,291.15 A6.75,6.75 0 0 1 394.8,291.15 L394.8,331.25 A6.75,6.75 0 0 1 381.3,331.25 Z" stroke="#2a2a2a" stroke-width="1.04" fill="none"/>
<path d="M438.5,291.3 A6.7,6.7 0 0 1 451.9,291.3 L451.9,331.3 A6.7,6.7 0 0 1 438.5,331.3 Z" stroke="#2a2a2a" stroke-width="1.04" fill="none"/>
<path d="M412.3,280.45 A4.15,4.15 0 0 1 420.6,280.45 L420.6,297.15 A4.15,4.15 0 0 1 412.3,297.15 Z" stroke="#2a2a2a" stroke-width="1.04" fill="none"/>
<path d="M412.3,326.65 A4.15,4.15 0 0 1 420.6,326.65 L420.6,343.35 A4.15,4.15 0 0 1 412.3,343.35 Z" stroke="#2a2a2a" stroke-width="1.04" fill="none"/>
<line x1="381.3" y1="291.2" x2="394.8" y2="291.2" stroke="#2a2a2a" stroke-width="1.04"/>
<line x1="435.3" y1="291.3" x2="454" y2="291.3" stroke="#2a2a2a" stroke-width="1.04"/>
<line x1="388" y1="284.6" x2="388" y2="301.5" stroke="#2a2a2a" stroke-width="0.91"/>
<line x1="388" y1="303" x2="388" y2="304" stroke="#2a2a2a" stroke-width="0.91"/>
<line x1="388" y1="305.5" x2="388" y2="332.7" stroke="#2a2a2a" stroke-width="0.91"/>
<line x1="445.2" y1="284.6" x2="445.2" y2="301.5" stroke="#2a2a2a" stroke-width="0.91"/>
<line x1="445.2" y1="303" x2="445.2" y2="304" stroke="#2a2a2a" stroke-width="0.91"/>
<line x1="445.2" y1="305.5" x2="445.2" y2="332.7" stroke="#2a2a2a" stroke-width="0.91"/>
<line x1="435" y1="332.8" x2="454" y2="332.8" stroke="#2a2a2a" stroke-width="1.04"/>
<line x1="388.5" y1="343.8" x2="388.5" y2="366.9" stroke="#2a2a2a" stroke-width="1.04"/>
<line x1="444.8" y1="343.8" x2="444.8" y2="366.9" stroke="#2a2a2a" stroke-width="1.04"/>
<line x1="416.3" y1="275" x2="416.3" y2="307.5" stroke="#2a2a2a" stroke-width="1.04"/>
<line x1="416.3" y1="310" x2="416.3" y2="311.5" stroke="#2a2a2a" stroke-width="1.04"/>
<line x1="416.3" y1="314" x2="416.3" y2="348.2" stroke="#2a2a2a" stroke-width="1.04"/>
<line x1="409.4" y1="280.6" x2="423" y2="280.6" stroke="#2a2a2a" stroke-width="1.04"/>
<line x1="409.4" y1="296.9" x2="423" y2="296.9" stroke="#2a2a2a" stroke-width="1.04"/>
<line x1="409.4" y1="326.9" x2="423" y2="326.9" stroke="#2a2a2a" stroke-width="1.04"/>
<line x1="409.4" y1="343" x2="423" y2="343" stroke="#2a2a2a" stroke-width="1.04"/>
<line x1="412.3" y1="289.4" x2="433.8" y2="289.4" stroke="#2a2a2a" stroke-width="1.04"/>
<line x1="412.3" y1="334.4" x2="433.8" y2="334.4" stroke="#2a2a2a" stroke-width="1.04"/>
<line x1="372.5" y1="281.9" x2="402.5" y2="281.9" stroke="#2a2a2a" stroke-width="0.91"/>
<polygon points="381.3,281.9 375.8,283.35 375.8,280.45" fill="#2a2a2a"/>
<polygon points="394.8,281.9 400.3,280.45 400.3,283.35" fill="#2a2a2a"/>
<line x1="381.3" y1="279" x2="381.3" y2="291" stroke="#2a2a2a" stroke-width="0.91"/>
<line x1="394.8" y1="279" x2="394.8" y2="291" stroke="#2a2a2a" stroke-width="0.91"/>
<text x="388" y="280.2" font-size="7.8" text-anchor="middle" font-family="'Liberation Sans','Noto Sans CJK SC',sans-serif" fill="#333">17</text>
<line x1="372.5" y1="285.4" x2="382" y2="285.4" stroke="#2a2a2a" stroke-width="0.91"/>
<line x1="372.5" y1="337.6" x2="384" y2="337.6" stroke="#2a2a2a" stroke-width="0.91"/>
<line x1="375" y1="285.4" x2="375" y2="337.6" stroke="#2a2a2a" stroke-width="0.91"/>
<polygon points="375,337.6 373.55,331.6 376.45,331.6" fill="#2a2a2a"/>
<polygon points="375,285.4 376.45,291.4 373.55,291.4" fill="#2a2a2a"/>
<text x="373" y="312.4" font-size="7.6" text-anchor="middle" font-family="'Liberation Sans','Noto Sans CJK SC',sans-serif" fill="#333" transform="rotate(-90 373 312.4)">94</text>
<line x1="402.5" y1="270.6" x2="429.4" y2="270.6" stroke="#2a2a2a" stroke-width="0.91"/>
<polygon points="411.6,270.6 406.1,272.05 406.1,269.15" fill="#2a2a2a"/>
<polygon points="420.9,270.6 426.4,269.15 426.4,272.05" fill="#2a2a2a"/>
<line x1="411.6" y1="267.5" x2="411.6" y2="281" stroke="#2a2a2a" stroke-width="0.91"/>
<line x1="420.9" y1="267.5" x2="420.9" y2="281" stroke="#2a2a2a" stroke-width="0.91"/>
<text x="416.2" y="269.4" font-size="7.8" text-anchor="middle" font-family="'Liberation Sans','Noto Sans CJK SC',sans-serif" fill="#333">6</text>
<line x1="403.8" y1="276.3" x2="415" y2="276.3" stroke="#2a2a2a" stroke-width="0.91"/>
<line x1="403.8" y1="300.7" x2="415" y2="300.7" stroke="#2a2a2a" stroke-width="0.91"/>
<line x1="405.6" y1="276.3" x2="405.6" y2="300.7" stroke="#2a2a2a" stroke-width="0.91"/>
<polygon points="405.6,300.7 404.15,295.7 407.05,295.7" fill="#2a2a2a"/>
<polygon points="405.6,276.3 407.05,281.3 404.15,281.3" fill="#2a2a2a"/>
<text x="403.2" y="288.5" font-size="7.4" text-anchor="middle" font-family="'Liberation Sans','Noto Sans CJK SC',sans-serif" fill="#333" transform="rotate(-90 403.2 288.5)">15</text>
<line x1="430.6" y1="289.4" x2="430.6" y2="334.4" stroke="#2a2a2a" stroke-width="0.91"/>
<polygon points="430.6,334.4 429.15,328.4 432.05,328.4" fill="#2a2a2a"/>
<polygon points="430.6,289.4 432.05,295.4 429.15,295.4" fill="#2a2a2a"/>
<text x="428.8" y="311" font-size="6.4" text-anchor="middle" font-family="'Liberation Sans','Noto Sans CJK SC',sans-serif" fill="#444" transform="rotate(-90 428.8 311)" textLength="20" lengthAdjust="spacingAndGlyphs">58±0.7</text>
<text x="459.4" y="277.6" font-size="7.8" text-anchor="middle" font-family="'Liberation Sans','Noto Sans CJK SC',sans-serif" fill="#333">R8.5</text>
<path d="M466.3,279 L455,279 L449.4,286.3" stroke="#2a2a2a" stroke-width="1.04" fill="none"/>
<text x="430.6" y="350.6" font-size="7.6" text-anchor="middle" font-family="'Liberation Sans','Noto Sans CJK SC',sans-serif" fill="#333">R3</text>
<path d="M420.6,345.6 L425.6,351.3 L433.8,351.3" stroke="#2a2a2a" stroke-width="1.04" fill="none"/>
<line x1="388.5" y1="363.5" x2="444.8" y2="363.5" stroke="#2a2a2a" stroke-width="0.91"/>
<polygon points="444.8,363.5 438.8,364.95 438.8,362.05" fill="#2a2a2a"/>
<polygon points="388.5,363.5 394.5,362.05 394.5,364.95" fill="#2a2a2a"/>
<text x="416.8" y="361.9" font-size="7.9" text-anchor="middle" font-family="'Liberation Sans','Noto Sans CJK SC',sans-serif" fill="#444" textLength="27.8" lengthAdjust="spacingAndGlyphs">72 ±0.2</text>
<rect x="511.9" y="272.7" width="59.8" height="75.9" rx="0" stroke="#2a2a2a" stroke-width="0.98" fill="none"/>
<circle cx="523.8" cy="284.5" r="5.8" stroke="#2a2a2a" stroke-width="0.98" fill="none"/>
<text x="523.8" y="287.6" font-size="8.6" text-anchor="middle" font-family="'Liberation Sans','Noto Sans CJK SC',sans-serif" fill="#555">2</text>
<circle cx="562.9" cy="284.5" r="5.8" stroke="#2a2a2a" stroke-width="0.98" fill="none"/>
<text x="562.9" y="287.6" font-size="8.6" text-anchor="middle" font-family="'Liberation Sans','Noto Sans CJK SC',sans-serif" fill="#555">1</text>
<circle cx="523.8" cy="302.3" r="5.8" stroke="#2a2a2a" stroke-width="0.98" fill="none"/>
<text x="523.8" y="305.4" font-size="8.6" text-anchor="middle" font-family="'Liberation Sans','Noto Sans CJK SC',sans-serif" fill="#555">4</text>
<circle cx="562.9" cy="302.3" r="5.8" stroke="#2a2a2a" stroke-width="0.98" fill="none"/>
<text x="562.9" y="305.4" font-size="8.6" text-anchor="middle" font-family="'Liberation Sans','Noto Sans CJK SC',sans-serif" fill="#555">3</text>
<circle cx="523.8" cy="320.1" r="5.8" stroke="#2a2a2a" stroke-width="0.98" fill="none"/>
<text x="523.8" y="323.2" font-size="8.6" text-anchor="middle" font-family="'Liberation Sans','Noto Sans CJK SC',sans-serif" fill="#555">6</text>
<circle cx="562.9" cy="320.1" r="5.8" stroke="#2a2a2a" stroke-width="0.98" fill="none"/>
<text x="562.9" y="323.2" font-size="8.6" text-anchor="middle" font-family="'Liberation Sans','Noto Sans CJK SC',sans-serif" fill="#555">5</text>
<circle cx="523.8" cy="337.9" r="5.8" stroke="#2a2a2a" stroke-width="0.98" fill="none"/>
<text x="523.8" y="341" font-size="8.6" text-anchor="middle" font-family="'Liberation Sans','Noto Sans CJK SC',sans-serif" fill="#555">8</text>
<circle cx="562.9" cy="337.9" r="5.8" stroke="#2a2a2a" stroke-width="0.98" fill="none"/>
<text x="562.9" y="341" font-size="8.6" text-anchor="middle" font-family="'Liberation Sans','Noto Sans CJK SC',sans-serif" fill="#555">7</text>
<text x="521.8" y="363.2" font-size="7" text-anchor="middle" font-family="'Liberation Sans','Noto Sans CJK SC',sans-serif" fill="#555">背</text>
<text x="538.6" y="363.2" font-size="7" text-anchor="middle" font-family="'Liberation Sans','Noto Sans CJK SC',sans-serif" fill="#555">视</text>
</svg>
</body>
</html>
